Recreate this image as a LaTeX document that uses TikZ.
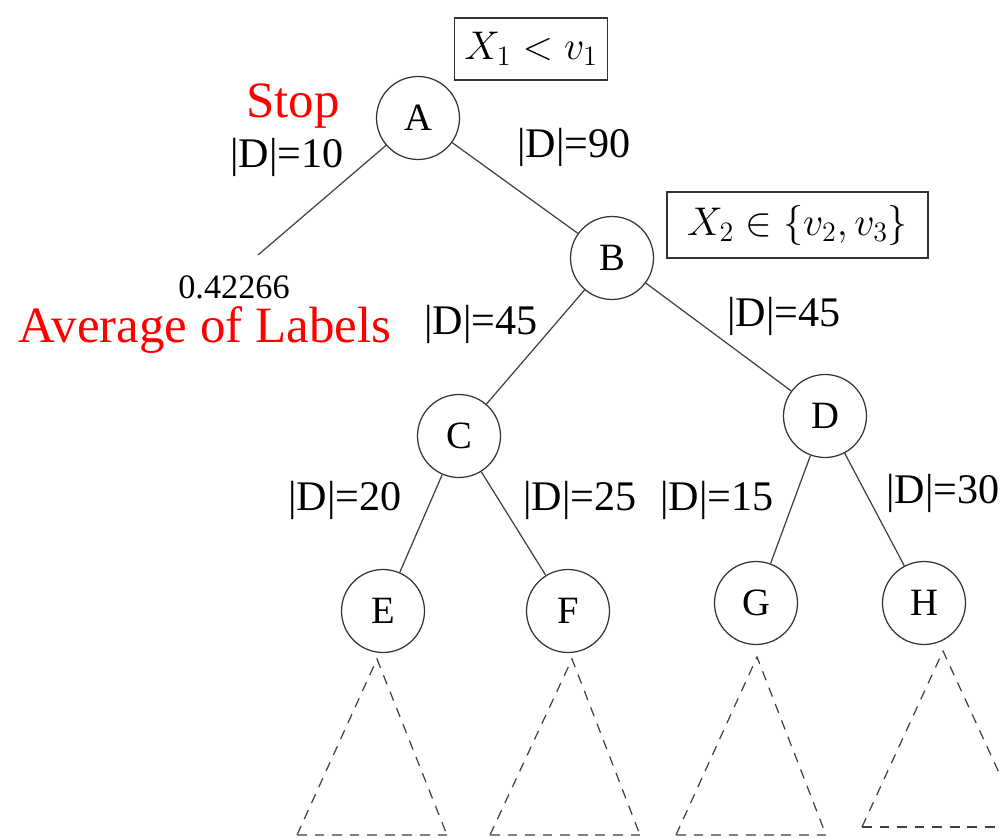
\documentclass[tikz,border=0pt]{standalone}
\usepackage{fix-cm}
\usepackage{fontspec}
\setmainfont{Liberation Serif}
\begin{document}
\begin{tikzpicture}[x=0.02cm,y=-0.02cm,
  tnode/.style={circle,draw=black!80,line width=0.7pt,minimum size=1.66cm,inner sep=0pt,font=\fontsize{22}{24}\selectfont},
  edge/.style={draw=black!75,line width=0.7pt},
  dlab/.style={font=\fontsize{24}{27}\selectfont,inner sep=0pt},
  redlab/.style={font=\fontsize{29}{32}\selectfont,text=red,inner sep=0pt},
  mbox/.style={draw=black!80,line width=0.7pt,font=\fontsize{22.8}{25}\selectfont,inner sep=0pt},
  dtri/.style={draw=black!75,line width=0.7pt,dash pattern=on 5.5pt off 4.5pt}
]
\useasboundingbox (0,0) rectangle (1001,838);
\clip (0,0) rectangle (1001,838);
% nodes
\node[tnode] (A) at (418,118) {A};
\node[tnode] (B) at (612,258) {B};
\node[tnode] (C) at (459,436) {C};
\node[tnode] (D) at (825,416) {D};
\node[tnode] (E) at (383,611) {E};
\node[tnode] (F) at (568,611) {F};
\node[tnode] (G) at (756,603) {G};
\node[tnode] (H) at (924,603) {H};
\coordinate (leaf) at (258,255);
% boxes
\node[mbox,minimum width=153*0.02cm,minimum height=62*0.02cm] (b1) at (531,49) {$X_1 < v_1$};
\node[mbox,minimum width=261*0.02cm,minimum height=66*0.02cm] (b2) at (797.5,225) {$X_2 \in \{v_2, v_3\}$};
% edges
\draw[edge] (A) -- (leaf);
\draw[edge] (A) -- (B);
\draw[edge] (B) -- (C);
\draw[edge] (B) -- (D);
\draw[edge] (C) -- (E);
\draw[edge] (C) -- (F);
\draw[edge] (D) -- (G);
\draw[edge] (D) -- (H);
% labels
\node[redlab] (stop) at (293,106) {Stop};
\node[dlab] (l10) at (287,157) {|D|=10};
\node[dlab] (l90) at (574,147) {|D|=90};
\node[font=\fontsize{19.5}{22}\selectfont,inner sep=0pt] (val) at (234,287) {0.42266};
\node[redlab] (avg) at (205,330) {Average of Labels};
\node[dlab] (l45a) at (481,324) {|D|=45};
\node[dlab] (l45b) at (784,316) {|D|=45};
\node[dlab] (l20) at (345,500) {|D|=20};
\node[dlab] (l25) at (580,500) {|D|=25};
\node[dlab] (l15) at (717,500) {|D|=15};
\node[dlab,anchor=west] (l30) at (886,493) {|D|=30};
% subtrees
\coordinate (e1) at (377,659); \coordinate (e2) at (297,835); \coordinate (e3) at (447,835);
\coordinate (f1) at (572,659); \coordinate (f2) at (490,835); \coordinate (f3) at (640,835);
\coordinate (g1) at (757,657); \coordinate (g2) at (676,835); \coordinate (g3) at (826,835);
\coordinate (h1) at (943,651); \coordinate (h2) at (862,827); \coordinate (h3) at (1024,827);
\draw[dtri] (e2) -- (e1) -- (e3);
\draw[dtri] (f2) -- (f1) -- (f3);
\draw[dtri] (g2) -- (g1) -- (g3);
\draw[dtri] (h2) -- (h1) -- (h3);
\draw[dtri,line width=1.4pt,draw=black!50] (e2) -- (e3);
\draw[dtri,line width=1.4pt,draw=black!50] (f2) -- (f3);
\draw[dtri,line width=1.4pt,draw=black!50] (g2) -- (g3);
\draw[dtri] (h2) -- (h3);
\end{tikzpicture}
\end{document}
